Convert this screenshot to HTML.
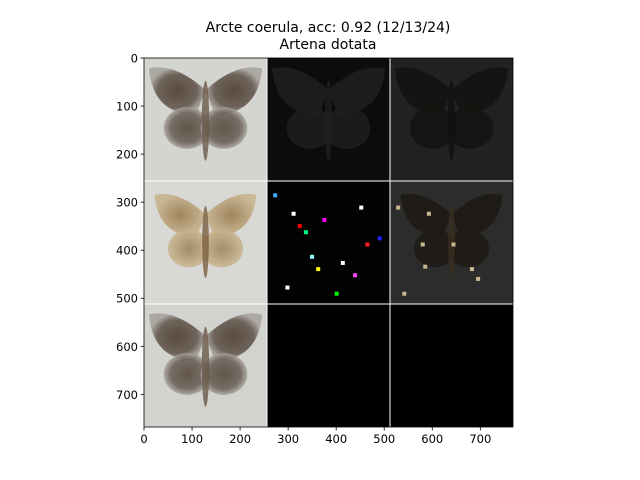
<!DOCTYPE html>
<html><head><meta charset="utf-8"><style>
body{margin:0;background:#fff}
svg{display:block;font-family:"DejaVu Sans","Liberation Sans",sans-serif}
</style></head><body>
<svg width="640" height="480" viewBox="0 0 640 480">
<rect width="640" height="480" fill="#fff"/>
<text x="328" y="32" font-size="14" text-anchor="middle">Arcte coerula, acc: 0.92 (12/13/24)</text>
<text x="328" y="49" font-size="14" text-anchor="middle">Artena dotata</text>
<defs>
<clipPath id="ax"><rect x="144" y="58" width="369" height="369"/></clipPath>
<radialGradient id="wingDark" cx="0.5" cy="0.5" r="0.5"><stop offset="0" stop-color="#4e4034"/><stop offset="0.7" stop-color="#665a50"/><stop offset="1" stop-color="#a8a49e"/></radialGradient>
<radialGradient id="wingLight" cx="0.5" cy="0.5" r="0.5"><stop offset="0" stop-color="#9a7e55"/><stop offset="1" stop-color="#c9b58e"/></radialGradient>
</defs>
<g id="plot" clip-path="url(#ax)"></g>
<g id="axes"></g>
</svg>
<script>
const xTicks=[0,100,200,300,400,500,600,700];
const yTicks=[0,100,200,300,400,500,600,700];
const tileSize=[256];
const extent=[768];
const NS='http://www.w3.org/2000/svg';
const X0=144,Y0=58,W=369;
const sx=v=>X0+v/extent[0]*W, sy=v=>Y0+v/extent[0]*W;
const plot=document.getElementById('plot'),axes=document.getElementById('axes');
function el(t,a,p){const e=document.createElementNS(NS,t);for(const k in a)e.setAttribute(k,a[k]);p.appendChild(e);return e;}
const tileBg=[['#d4d4d0','#0c0c0c','#222222'],['#d8d8d4','#020202','#2c2c2c'],['#d2d2cf','#000000','#000000']];
const T=tileSize[0];
function moth(g,cx,cy,s,fill,body){
  el('path',{d:`M${cx},${cy-s*0.2} Q${cx-s*0.5},${cy-s*0.65} ${cx-s*0.92},${cy-s*0.55} Q${cx-s*0.85},${cy+s*0.2} ${cx-s*0.15},${cy+s*0.2} Z`,fill:fill,opacity:0.92},g);
  el('path',{d:`M${cx},${cy-s*0.2} Q${cx+s*0.5},${cy-s*0.65} ${cx+s*0.92},${cy-s*0.55} Q${cx+s*0.85},${cy+s*0.2} ${cx+s*0.15},${cy+s*0.2} Z`,fill:fill,opacity:0.92},g);
  el('ellipse',{cx:cx-s*0.3,cy:cy+s*0.42,rx:s*0.38,ry:s*0.34,fill:fill,opacity:0.85},g);
  el('ellipse',{cx:cx+s*0.3,cy:cy+s*0.42,rx:s*0.38,ry:s*0.34,fill:fill,opacity:0.85},g);
  el('ellipse',{cx:cx,cy:cy+s*0.3,rx:s*0.06,ry:s*0.65,fill:body,opacity:0.8},g);
}
for(let r=0;r<3;r++)for(let c=0;c<3;c++){
  const x=sx(c*T),y=sy(r*T),w=sx((c+1)*T)-x,h=sy((r+1)*T)-y;
  const t=el('rect',{x:x,y:y,width:w,height:h,fill:tileBg[r][c]},plot);
  
  
  const g=el('g',{},plot);
  const cx=x+w/2,cy=y+h*0.36,s=w*0.5;
  if(c===0&&r!==1)moth(g,cx,cy,s,'url(#wingDark)','#6a5a4a');
  if(c===0&&r===1)moth(g,cx,cy,s*0.9,'url(#wingLight)','#7a6040');
  if(r===0&&c===1)moth(g,cx,cy,s,'#201e1e','#201e1e');
  if(r===0&&c===2)moth(g,cx,cy,s,'#151311','#121010');
  if(r===1&&c===2)moth(g,cx,cy,s*0.9,'#1e1a15','#3a3020');
}
// speckles in saliency tile (decorative texture)
const spk=[[0.05,0.1,'#4af'],[0.2,0.25,'#fff'],[0.3,0.4,'#0f8'],[0.45,0.3,'#f0f'],[0.6,0.65,'#fff'],[0.7,0.75,'#f4f'],[0.35,0.6,'#8ff'],[0.8,0.5,'#f22'],[0.9,0.45,'#22f'],[0.55,0.9,'#0f0'],[0.15,0.85,'#fff'],[0.75,0.2,'#fff'],[0.4,0.7,'#ff0'],[0.25,0.35,'#f00']];
spk.forEach(p=>{const x=sx(T)+p[0]*123,y=sy(T)+p[1]*123;el('rect',{x:x,y:y,width:4,height:4,fill:p[2]},plot);});
const spk2=[[0.3,0.25],[0.25,0.5],[0.27,0.68],[0.5,0.5],[0.65,0.7],[0.7,0.78],[0.1,0.9],[0.05,0.2]];
spk2.forEach(p=>{const x=sx(2*T)+p[0]*123,y=sy(T)+p[1]*123;el('rect',{x:x,y:y,width:4,height:4,fill:'#c8b890'},plot);});
for(let i=1;i<3;i++){
  const l1=el('line',{x1:sx(i*T),x2:sx(i*T),y1:Y0,y2:Y0+W,stroke:'#fff','stroke-width':1},plot);
  
  
  const l2=el('line',{y1:sy(i*T),y2:sy(i*T),x1:X0,x2:X0+W,stroke:'#fff','stroke-width':1},plot);
  
  
}
const frame=el('rect',{x:X0,y:Y0,width:W,height:W,fill:'none',stroke:'#000','stroke-width':0.8},axes);


xTicks.forEach(v=>{
  const x=sx(v);
  el('line',{x1:x,x2:x,y1:Y0+W,y2:Y0+W+3.5,stroke:'#000','stroke-width':0.8},axes);
  const t=el('text',{x:x,y:Y0+W+16,'font-size':11.5,'text-anchor':'middle'},axes);
  t.textContent=v;
  
  
});
yTicks.forEach(v=>{
  const y=sy(v);
  el('line',{x1:X0-3.5,x2:X0,y1:y,y2:y,stroke:'#000','stroke-width':0.8},axes);
  const t=el('text',{x:X0-6,y:y+4.5,'font-size':11.5,'text-anchor':'end'},axes);
  t.textContent=v;
  
  
});
</script>
</body></html>
